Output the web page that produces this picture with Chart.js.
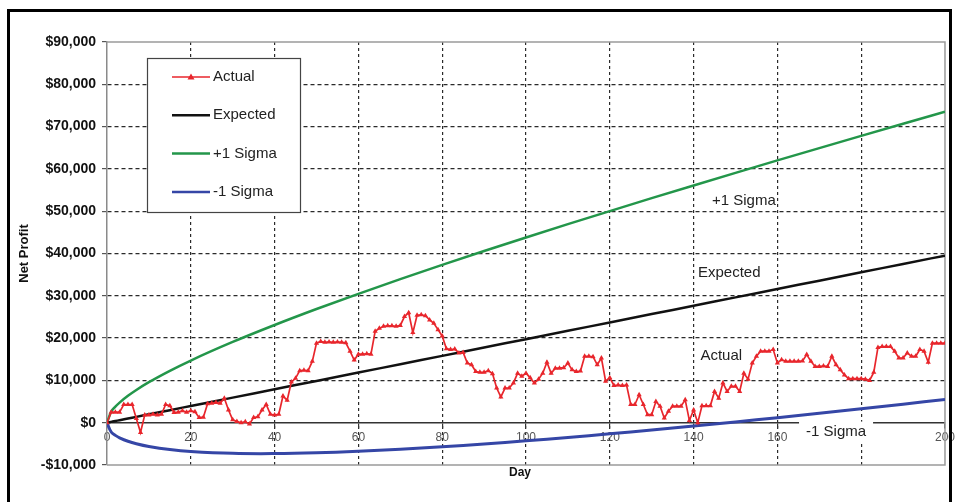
<!DOCTYPE html>
<html>
<head>
<meta charset="utf-8">
<script src="https://cdn.jsdelivr.net/npm/chart.js@4/dist/chart.umd.min.js"></script>
<style>
  html, body { margin: 0; padding: 0; background: #fff; }
  canvas { display: block; }
</style>
</head>
<body>
<canvas id="chart" width="958" height="502"></canvas>
<script>
// Actual net profit, one value per day (day 0 .. 200)
const actual = [
  0, 2500, 2500, 2500, 4300, 4300, 4300, 1000, -2300, 1800,
  1800, 2000, 1800, 2000, 4300, 4000, 2400, 2500, 2800, 2500,
  2800, 2600, 1200, 1300, 4500, 4600, 4800, 4600, 5800, 3000,
  700, 300, 0, 200, -300, 1200, 1400, 3000, 4300, 2000,
  1800, 2000, 6300, 5300, 9600, 10500, 12300, 12400, 12300, 14500,
  18800, 19200, 19000, 19100, 19000, 19100, 19000, 18900, 16900, 14800,
  16200, 16200, 16300, 16200, 21600, 22300, 22800, 22900, 22900, 22800,
  23000, 25100, 26000, 21300, 25400, 25500, 25300, 24300, 23500, 22000,
  20500, 17500, 17300, 17400, 16500, 16600, 14100, 13700, 12100, 11900,
  11900, 12300, 11600, 8200, 6100, 8200, 8200, 9400, 11700, 11000,
  11700, 10600, 9400, 10300, 11700, 14300, 11700, 12900, 12900, 13000,
  14100, 12500, 12100, 12200, 15700, 15700, 15600, 13700, 15300, 9800,
  10600, 8800, 8900, 8800, 8900, 4300, 4300, 6600, 4300, 1900,
  1900, 5000, 3900, 1100, 2700, 3900, 3900, 3900, 5400, 500,
  3000, 0, 4000, 4000, 4000, 7400, 5800, 9400, 7400, 8600,
  8600, 7400, 11700, 10300, 14100, 15700, 16900, 16900, 16900, 17300,
  14100, 14900, 14500, 14500, 14500, 14500, 14600, 16100, 14500, 13300,
  13300, 13400, 13300, 15700, 13700, 12500, 11300, 10400, 10400, 10400,
  10400, 10300, 10000, 11900, 17800, 18000, 18000, 18000, 16900, 15300,
  15300, 16500, 15700, 15700, 17300, 16900, 14300, 18800, 18800, 18800,
  18800
];

// smooth curves, read at these days
const curveDays = [0, 1, 2, 3, 5, 7, 10, 15, 20, 30, 40, 50, 60, 70, 80, 90, 100,
  110, 120, 130, 140, 150, 160, 170, 180, 190, 200];
const expected = [0, 200, 400, 590, 990, 1380, 1980, 2960, 3950, 5930, 7900, 9880, 11850,
  13830, 15800, 17780, 19750, 21730, 23700, 25680, 27650, 29630, 31600, 33580, 35550, 37530, 39500];
const plusSigma = [0, 2600, 3800, 4760, 6360, 7740, 9580, 12270, 14700, 19090, 23100, 26880, 30470,
  33940, 37300, 40580, 43790, 46940, 50030, 53080, 56090, 59070, 62010, 64920, 67800, 70660, 73500];
const minusSigma = [0, -2200, -3000, -3570, -4390, -4980, -5630, -6350, -6800, -7240, -7300, -7125, -6770,
  -6280, -5700, -5030, -4290, -3490, -2630, -1730, -790, 180, 1190, 2230, 3290, 4380, 5500];

const seriesNames = ['Actual', 'Expected', '+1 Sigma', '-1 Sigma'];
const seriesColors = ['#e8262c', '#111111', '#23964a', '#3546a6'];

// text labels placed next to the curves (day, value)
const curveLabels = [
  { text: '+1 Sigma', day: 152, value: 52500 },
  { text: 'Expected', day: 148.5, value: 35400 },
  { text: 'Actual', day: 146.6, value: 15800 },
  { text: '-1 Sigma', day: 174, value: -2100, boxed: true }
];

const toPoints = (xs, ys) => ys.map((v, i) => ({ x: xs[i], y: v }));
const actualPoints = actual.map((v, i) => ({ x: i, y: v }));

function money(v) {
  const s = '$' + Math.abs(v).toLocaleString('en-US');
  return v < 0 ? '-' + s : s;
}

const decor = {
  id: 'decor',
  beforeDraw(chart) {
    const ctx = chart.ctx;
    ctx.save();
    ctx.fillStyle = '#fff';
    ctx.fillRect(0, 0, chart.width, chart.height);
    ctx.restore();
  },
  beforeDatasetsDraw(chart) {
    const { ctx, chartArea: a } = chart;
    ctx.save();
    ctx.strokeStyle = '#9a9a9a';
    ctx.lineWidth = 1.5;
    ctx.beginPath();
    ctx.moveTo(a.left, a.top);
    ctx.lineTo(a.right, a.top);
    ctx.lineTo(a.right, a.bottom);
    ctx.lineTo(a.left, a.bottom);
    ctx.stroke();
    // axis title under the plot
    ctx.fillStyle = '#111';
    ctx.font = 'bold 12px "Liberation Sans", Arial, sans-serif';
    ctx.textAlign = 'center';
    ctx.textBaseline = 'middle';
    ctx.fillText('Day', 520, 473);
    ctx.restore();
  },
  afterDatasetsDraw(chart) {
    const { ctx, scales: { x, y } } = chart;
    ctx.save();
    ctx.font = '15px "Liberation Sans", Arial, sans-serif';
    ctx.textAlign = 'center';
    ctx.textBaseline = 'middle';
    curveLabels.forEach(l => {
      const px = x.getPixelForValue(l.day);
      const py = y.getPixelForValue(l.value);
      if (l.boxed) {
        const w = ctx.measureText(l.text).width + 14;
        ctx.fillStyle = '#fff';
        ctx.fillRect(px - w / 2, py - 10, w, 21);
      }
      ctx.fillStyle = '#222';
      ctx.fillText(l.text, px, py);
    });

    // legend box
    const lx = 147, ly = 58, lw = 153, lh = 154;
    ctx.fillStyle = '#fff';
    ctx.fillRect(lx, ly, lw, lh);
    ctx.strokeStyle = '#444';
    ctx.lineWidth = 1.2;
    ctx.strokeRect(lx + 0.5, ly + 0.5, lw, lh);
    ctx.textAlign = 'left';
    chart.data.datasets.forEach((ds, i) => {
      const ey = ly + 19 + i * 38.3;
      ctx.strokeStyle = ds.borderColor;
      ctx.lineWidth = i === 0 ? 1.6 : 2.5;
      ctx.beginPath();
      ctx.moveTo(lx + 25, ey);
      ctx.lineTo(lx + 63, ey);
      ctx.stroke();
      if (i === 0) {
        ctx.fillStyle = ds.borderColor;
        ctx.beginPath();
        ctx.moveTo(lx + 44, ey - 3.5);
        ctx.lineTo(lx + 47.5, ey + 2.5);
        ctx.lineTo(lx + 40.5, ey + 2.5);
        ctx.closePath();
        ctx.fill();
      }
      ctx.fillStyle = '#222';
      ctx.fillText(ds.label, lx + 66, ey);
    });
    ctx.restore();
  },
  afterDraw(chart) {
    const ctx = chart.ctx;
    ctx.save();
    ctx.strokeStyle = '#000';
    ctx.lineWidth = 3;
    ctx.strokeRect(8.5, 10.5, 942, 520);
    ctx.restore();
  }
};

const hiddenY = [-10000, 0, 90000];

new Chart(document.getElementById('chart'), {
  type: 'line',
  data: {
    datasets: [
      {
        label: seriesNames[0], data: actualPoints, borderColor: seriesColors[0],
        backgroundColor: seriesColors[0], borderWidth: 1.7, pointStyle: 'triangle',
        pointRadius: 3, pointBorderWidth: 0, tension: 0
      },
      {
        label: seriesNames[1], data: toPoints(curveDays, expected), borderColor: seriesColors[1],
        borderWidth: 2.5, pointRadius: 0, cubicInterpolationMode: 'monotone'
      },
      {
        label: seriesNames[2], data: toPoints(curveDays, plusSigma), borderColor: seriesColors[2],
        borderWidth: 2.5, pointRadius: 0, cubicInterpolationMode: 'monotone'
      },
      {
        label: seriesNames[3], data: toPoints(curveDays, minusSigma), borderColor: seriesColors[3],
        borderWidth: 3, pointRadius: 0, tension: 0.4
      }
    ]
  },
  options: {
    responsive: false,
    animation: false,
    devicePixelRatio: 1,
    layout: { padding: { top: 42, right: 12, bottom: 37, left: 0 } },
    plugins: { legend: { display: false }, tooltip: { enabled: false } },
    scales: {
      x: {
        type: 'linear',
        position: { y: 0 },
        min: 0, max: 200,
        ticks: {
          stepSize: 20, color: '#555', padding: 3,
          font: { family: '"Liberation Sans", Arial, sans-serif', size: 12 }
        },
        grid: {
          color: c => (c.tick && (c.tick.value === 0 || c.tick.value === 200)) ? 'rgba(0,0,0,0)' : '#2a2a2a',
          tickColor: '#333', tickLength: 5, lineWidth: 1.2
        },
        border: { display: true, color: '#333', width: 1.5, dash: [3, 3] }
      },
      y: {
        type: 'linear',
        min: -10000, max: 90000,
        afterFit: s => { s.width = 107; },
        ticks: {
          stepSize: 10000, color: '#111', padding: 6,
          font: { family: '"Liberation Sans", Arial, sans-serif', size: 14, weight: 'bold' },
          callback: v => money(v)
        },
        grid: {
          color: c => (c.tick && hiddenY.includes(c.tick.value)) ? 'rgba(0,0,0,0)' : '#2a2a2a',
          tickColor: '#555', tickLength: 5, lineWidth: 1.2
        },
        border: { display: true, color: '#8a8a8a', width: 1.5, dash: [4, 3] },
        title: {
          display: true, text: 'Net Profit', color: '#111',
          font: { family: '"Liberation Sans", Arial, sans-serif', size: 13, weight: 'bold' },
          padding: { top: 17, bottom: 0 }
        }
      }
    }
  },
  plugins: [decor]
});
</script>
</body>
</html>
